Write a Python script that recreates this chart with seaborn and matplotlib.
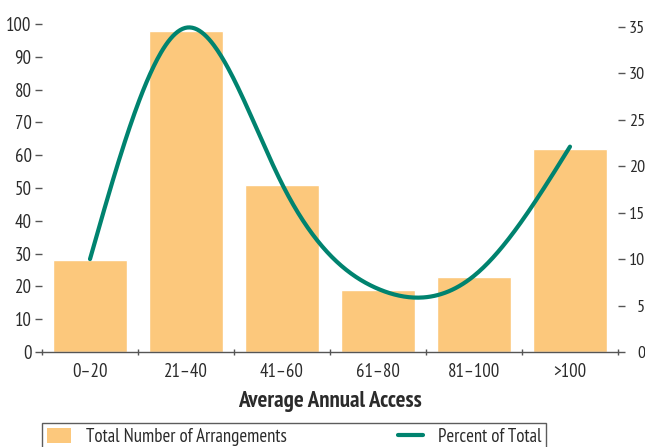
import numpy as np
import pandas as pd
import matplotlib
matplotlib.use("Agg")
import matplotlib.pyplot as plt
from matplotlib.lines import Line2D
from matplotlib.patches import Patch
import seaborn as sns

categories = ["0\u201320", "21\u201340", "41\u201360", "61\u201380", "81\u2013100", ">100"]
arrangements = [28, 98, 51, 19, 23, 62]
percent_of_total = [10.0, 34.9, 18.1, 6.8, 8.2, 22.1]
left_ticks = list(range(0, 101, 10))
right_ticks = list(range(0, 36, 5))

BAR_COLOR = "#FCC87C"
LINE_COLOR = "#00836F"
TEXT_COLOR = "#2b2b2b"
AXIS_COLOR = "#555555"

sns.set_theme(style="white")
plt.rcParams["font.family"] = ["PT Sans Narrow", "Fira Sans Condensed",
                               "Roboto Condensed", "Encode Sans Condensed",
                               "DejaVu Sans"]
plt.rcParams["text.color"] = TEXT_COLOR
plt.rcParams["axes.labelcolor"] = TEXT_COLOR
plt.rcParams["xtick.color"] = TEXT_COLOR
plt.rcParams["ytick.color"] = TEXT_COLOR


def natural_cubic_spline(x, y, xs):
    x = np.asarray(x, float)
    y = np.asarray(y, float)
    n = len(x)
    h = np.diff(x)
    A = np.zeros((n, n))
    b = np.zeros(n)
    A[0, 0] = A[-1, -1] = 1.0
    for i in range(1, n - 1):
        A[i, i - 1] = h[i - 1]
        A[i, i] = 2 * (h[i - 1] + h[i])
        A[i, i + 1] = h[i]
        b[i] = 6 * ((y[i + 1] - y[i]) / h[i] - (y[i] - y[i - 1]) / h[i - 1])
    M = np.linalg.solve(A, b)
    out = np.empty_like(xs)
    for k, t in enumerate(xs):
        i = min(max(np.searchsorted(x, t) - 1, 0), n - 2)
        a = x[i + 1] - t
        c = t - x[i]
        out[k] = (M[i] * a ** 3 / (6 * h[i]) + M[i + 1] * c ** 3 / (6 * h[i])
                  + (y[i] / h[i] - M[i] * h[i] / 6) * a
                  + (y[i + 1] / h[i] - M[i + 1] * h[i] / 6) * c)
    return out


df = pd.DataFrame({"category": categories, "count": arrangements})

fig = plt.figure(figsize=(6.45, 4.47), dpi=100)
ax = fig.add_axes([42 / 645, 1 - 352 / 447, 576 / 645, 328 / 447])

sns.barplot(data=df, x="category", y="count", color=BAR_COLOR, width=0.77,
            saturation=1, ax=ax, zorder=2)
ax.set_xlim(-0.5, len(categories) - 0.5)
ax.set_ylim(0, 100)
ax.set_yticks(left_ticks)

ax2 = ax.twinx()
xs = np.linspace(0, len(categories) - 1, 400)
smooth = natural_cubic_spline(np.arange(len(categories)), percent_of_total, xs)
sns.lineplot(x=xs, y=smooth, ax=ax2, color=LINE_COLOR, linewidth=3, sort=False)
for line in ax2.lines:
    line.set_clip_on(False)
ax2.set_ylim(0, 35.3)
ax2.set_yticks(right_ticks)

for a in (ax, ax2):
    for side in ("top", "left", "right", "bottom"):
        a.spines[side].set_visible(False)
ax.spines["bottom"].set_visible(True)
ax.spines["bottom"].set_color(AXIS_COLOR)
ax.spines["bottom"].set_linewidth(1.0)

ax.tick_params(axis="y", length=5, width=1, pad=2.5, labelsize=13.5,
               left=True, color=AXIS_COLOR)
ax2.tick_params(axis="y", length=5, width=1, pad=14.5, labelsize=13,
                right=True, color=AXIS_COLOR)
for lbl in ax2.get_yticklabels():
    lbl.set_horizontalalignment("right")

ax.set_xticks(range(len(categories)))
ax.set_xticklabels(categories)
ax.set_xticks(np.arange(-0.5, len(categories), 1), minor=True)
ax.tick_params(axis="x", which="major", length=0, pad=8, labelsize=13.5)
ax.tick_params(axis="x", which="minor", length=4, width=1, bottom=True,
               direction="inout", color=AXIS_COLOR)

ax.set_ylabel("")
ax2.set_ylabel("")
ax.set_xlabel("Average Annual Access", fontsize=16.5, fontweight="bold",
              labelpad=7)

handles = [Patch(facecolor=BAR_COLOR, edgecolor="none"),
           Line2D([0], [0], color=LINE_COLOR, linewidth=3)]
labels = ["Total Number of Arrangements", "Percent of Total"]
leg = fig.legend(handles, labels, loc="upper left", ncol=2, mode="expand",
                 bbox_to_anchor=(42 / 645, 1 - 423 / 447, 504 / 645, 0.0),
                 frameon=True, fancybox=False, fontsize=13.5,
                 handlelength=1.3, handleheight=0.9, borderpad=0.25,
                 borderaxespad=0)
leg.get_frame().set_edgecolor("#333333")
leg.get_frame().set_linewidth(1.0)

fig.savefig("out.png", dpi=100)
